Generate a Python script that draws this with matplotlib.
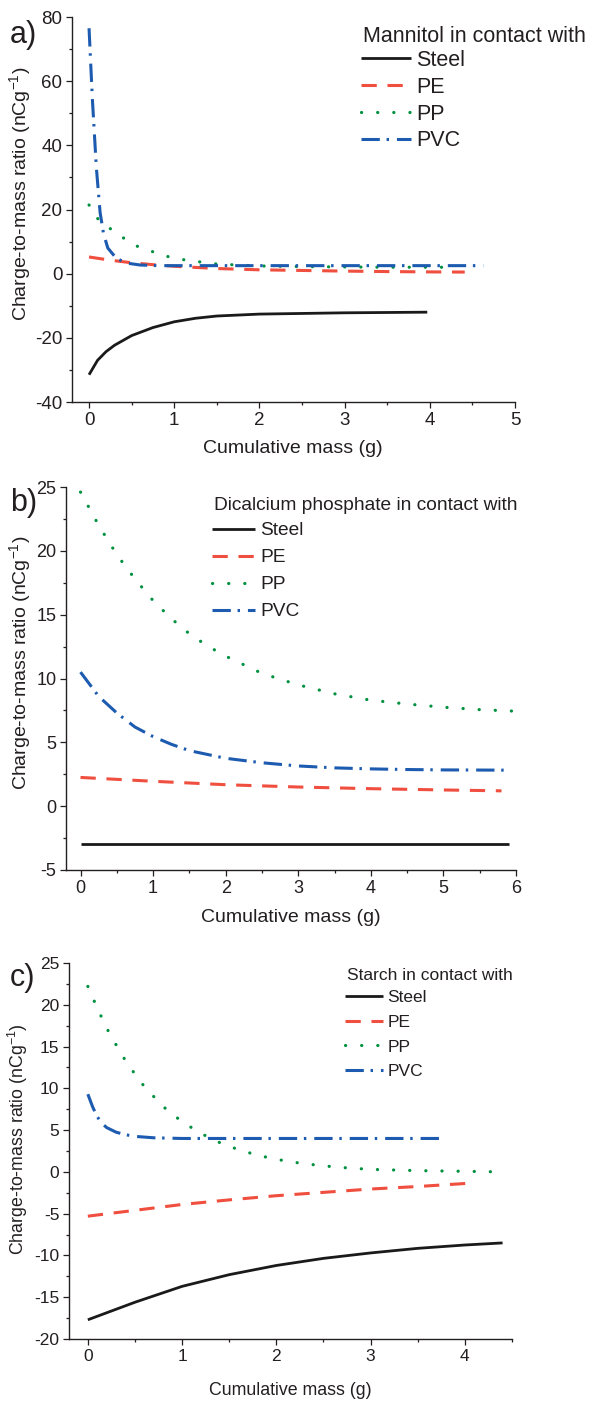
import numpy as np
import matplotlib
matplotlib.use("Agg")
import matplotlib.pyplot as plt
from matplotlib.ticker import MultipleLocator

plt.rcParams['font.family'] = ['Liberation Sans', 'DejaVu Sans']
plt.rcParams['mathtext.fontset'] = 'custom'
plt.rcParams['mathtext.rm'] = 'Liberation Sans'
plt.rcParams['mathtext.it'] = 'Liberation Sans'

TXT = '#231f20'
C_STEEL = '#1a1a1a'
C_PE = '#f04e3e'
C_PP = '#00913f'
C_PVC = '#1c5bb0'

materials = ['Steel', 'PE', 'PP', 'PVC']

# ---- panel a: Mannitol ----
a_steel_x = [0, 0.1, 0.2, 0.3, 0.5, 0.75, 1.0, 1.25, 1.5, 2.0, 2.5, 3.0, 3.5, 3.97]
a_steel_y = [-31.5, -27.0, -24.3, -22.3, -19.3, -16.8, -15.0, -13.9, -13.2, -12.6, -12.4, -12.2, -12.1, -12.0]
a_pe_x = [0, 0.25, 0.5, 0.75, 1.0, 1.5, 2.0, 2.5, 3.0, 3.5, 4.0, 4.41]
a_pe_y = [5.2, 4.2, 3.4, 2.8, 2.3, 1.6, 1.2, 1.0, 0.8, 0.65, 0.55, 0.5]
a_pp_x = [0, 0.1, 0.24, 0.4, 0.55, 0.71, 0.86, 1.0, 1.2, 1.5, 2.0, 2.5, 3.0, 3.5, 4.0, 4.3]
a_pp_y = [21.4, 17.2, 14.2, 11.2, 8.7, 7.2, 5.8, 4.8, 4.0, 3.0, 2.4, 2.2, 2.1, 2.0, 2.0, 2.0]
a_pvc_x = [0, 0.04, 0.086, 0.13, 0.17, 0.22, 0.32, 0.44, 0.6, 0.8, 1.5, 3.0, 4.63]
a_pvc_y = [76.5, 54, 33, 19, 12.5, 8.0, 4.8, 3.3, 2.7, 2.5, 2.5, 2.5, 2.5]

# ---- panel b: Dicalcium phosphate ----
b_steel_x = [0, 1, 2, 3, 4, 5, 5.9]
b_steel_y = [-3.0, -3.0, -3.0, -3.0, -3.0, -3.0, -3.0]
b_pe_x = [0, 1, 2, 3, 4, 5, 5.8]
b_pe_y = [2.25, 1.95, 1.68, 1.5, 1.37, 1.27, 1.2]
b_pp_x = [0, 0.25, 0.5, 0.75, 1.0, 1.25, 1.5, 1.75, 2.0, 2.5, 3.0, 3.5, 4.0, 4.5, 5.0, 5.5, 5.95]
b_pp_y = [24.6, 22.0, 19.7, 17.8, 16.1, 14.7, 13.5, 12.55, 11.75, 10.4, 9.5, 8.8, 8.3, 8.0, 7.75, 7.56, 7.45]
b_pvc_x = [0, 0.25, 0.5, 0.75, 1.0, 1.25, 1.5, 2.0, 2.5, 3.0, 3.5, 4.0, 4.5, 5.0, 5.9]
b_pvc_y = [10.5, 8.6, 7.3, 6.2, 5.45, 4.85, 4.35, 3.75, 3.4, 3.15, 3.0, 2.92, 2.87, 2.84, 2.82]

# ---- panel c: Starch ----
c_steel_x = [0, 0.5, 1.0, 1.5, 2.0, 2.5, 3.0, 3.5, 4.0, 4.4]
c_steel_y = [-17.7, -15.6, -13.7, -12.3, -11.2, -10.35, -9.7, -9.15, -8.75, -8.5]
c_pe_x = [0, 0.5, 1.0, 1.5, 2.0, 2.5, 3.0, 3.5, 4.06]
c_pe_y = [-5.3, -4.6, -3.9, -3.35, -2.85, -2.45, -2.05, -1.75, -1.35]
c_pp_x = [0, 0.1, 0.2, 0.3, 0.4, 0.5, 0.6, 0.8, 1.0, 1.2, 1.4, 1.6, 1.8, 2.0, 2.25, 2.5, 2.75, 3.0, 3.5, 4.0, 4.4]
c_pp_y = [22.2, 19.6, 17.2, 15.2, 13.3, 11.7, 10.2, 7.8, 6.0, 4.6, 3.5, 2.65, 2.0, 1.5, 1.05, 0.72, 0.48, 0.3, 0.15, 0.07, 0.0]
c_pvc_x = [0, 0.05, 0.1, 0.15, 0.2, 0.3, 0.4, 0.5, 0.7, 1.0, 2.0, 3.0, 3.76]
c_pvc_y = [9.3, 7.8, 6.6, 5.8, 5.3, 4.75, 4.45, 4.25, 4.08, 4.0, 4.0, 4.0, 4.0]

styles = {
    'Steel': dict(color=C_STEEL, lw=2.0, ls='-', cap='butt'),
    'PE': dict(color=C_PE, lw=2.2, ls=(0, (5, 3.5)), cap='butt'),
    'PP': dict(color=C_PP, lw=2.3, ls=(0, (0.05, 5.0)), cap='round'),
    'PVC': dict(color=C_PVC, lw=2.2, ls=(0, (6, 2.2, 0.8, 2.6)), cap='butt'),
}

H = 1402.0
W = 607.0

panels = [
    dict(letter='a)', title='Mannitol in contact with',
         data=[(a_steel_x, a_steel_y), (a_pe_x, a_pe_y), (a_pp_x, a_pp_y), (a_pvc_x, a_pvc_y)],
         rect=[72/W, 1-402/H, 443/W, 385/H], xlim=(-0.2, 5), ylim=(-40, 80),
         ymaj=20, ymin=10, tick=13.5, lab=14, leg=15.5,
         title_xy=(363, 36), leg_xy=(361, 50), hl=2.3, lsp=0.27,
         ylab=(-0.117, 0.54), xlab=(0.499, -0.12), let_y=35),
    dict(letter='b)', title='Dicalcium phosphate in contact with',
         data=[(b_steel_x, b_steel_y), (b_pe_x, b_pe_y), (b_pp_x, b_pp_y), (b_pvc_x, b_pvc_y)],
         rect=[66/W, 1-870/H, 450/W, 383/H], xlim=(-0.2, 6), ylim=(-5, 25),
         ymaj=5, ymin=2.5, tick=13, lab=14, leg=13.8,
         title_xy=(214, 505), leg_xy=(212, 522), hl=2.25, lsp=0.5,
         ylab=(-0.102, 0.54), xlab=(0.5, -0.125), let_y=503),
    dict(letter='c)', title='Starch in contact with',
         data=[(c_steel_x, c_steel_y), (c_pe_x, c_pe_y), (c_pp_x, c_pp_y), (c_pvc_x, c_pvc_y)],
         rect=[69/W, 1-1339/H, 443/W, 376/H], xlim=(-0.2, 4.5), ylim=(-20, 25),
         ymaj=5, ymin=2.5, tick=12.5, lab=12.8, leg=12.5,
         title_xy=(347, 975), leg_xy=(345, 990), hl=2.2, lsp=0.55,
         ylab=(-0.115, 0.532), xlab=(0.499, -0.136), let_y=978),
]

fig = plt.figure(figsize=(6.07, 14.02), dpi=100)

for p in panels:
    ax = fig.add_axes(p['rect'])
    for name, (xs, ys) in zip(materials, p['data']):
        st = styles[name]
        ax.plot(xs, ys, color=st['color'], lw=st['lw'], ls=st['ls'], label=name,
                solid_capstyle='butt', dash_capstyle=st['cap'])
    xmax = p['xlim'][1]
    ax.set_xticks(np.arange(0, xmax + 0.01, 1.0))
    ax.set_xticks(np.arange(0.5, xmax + 0.01, 1.0), minor=True)
    ax.set_xlim(*p['xlim'])
    ax.yaxis.set_major_locator(MultipleLocator(p['ymaj']))
    ax.yaxis.set_minor_locator(MultipleLocator(p['ymin']))
    ax.set_ylim(*p['ylim'])
    ax.set_xticklabels([f'{t:g}' for t in ax.get_xticks()])
    for s in ['top', 'right']:
        ax.spines[s].set_visible(False)
    for s in ['left', 'bottom']:
        ax.spines[s].set_linewidth(1.0)
        ax.spines[s].set_color(TXT)
    ax.tick_params(which='major', direction='out', length=4, width=0.9, colors=TXT,
                   labelsize=p['tick'], pad=3)
    ax.tick_params(which='minor', direction='out', length=2.5, width=0.9, colors=TXT)
    ax.yaxis.set_major_formatter(plt.FuncFormatter(lambda v, pos: f'{v:g}'))
    ax.set_xlabel('Cumulative mass (g)', fontsize=p['lab'], color=TXT)
    ax.set_ylabel('Charge-to-mass ratio (nCg$^{-1}$)', fontsize=p['lab'], color=TXT)
    ax.xaxis.set_label_coords(*p['xlab'])
    ax.xaxis.label.set_va('center')
    ax.yaxis.set_label_coords(*p['ylab'])
    ax.yaxis.label.set_va('center')
    ax.patch.set_alpha(0)

    lx, ly = p['leg_xy']
    leg = ax.legend(loc='upper left', bbox_to_anchor=(lx/W, 1-ly/H),
                    bbox_transform=fig.transFigure, frameon=False, fontsize=p['leg'],
                    borderpad=0, borderaxespad=0,
                    handlelength=p['hl'], handletextpad=0.25, labelspacing=p['lsp'])
    for t in leg.get_texts():
        t.set_color(TXT)

    tx, ty = p['title_xy']
    fig.text(tx/W, 1-ty/H, p['title'], fontsize=p['leg'], color=TXT, ha='left', va='center')
    fig.text(10/W, 1-p['let_y']/H, p['letter'], fontsize=22, color=TXT, ha='left', va='center')

fig.savefig('out.png', dpi=100)
